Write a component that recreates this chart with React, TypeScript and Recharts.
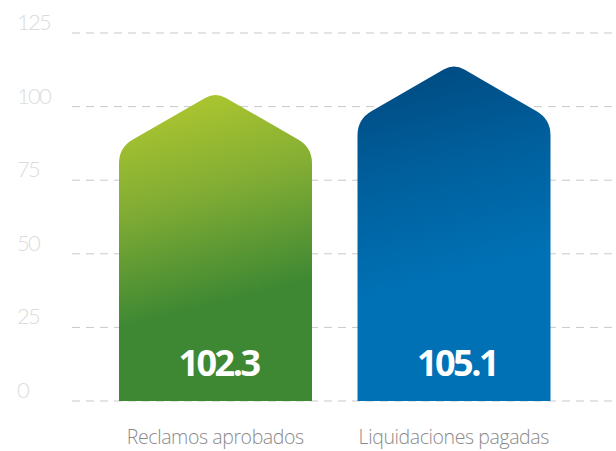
import { BarChart, Bar, XAxis, YAxis, CartesianGrid } from "recharts";

// categories and values
const CATEGORIES = ["Reclamos aprobados", "Liquidaciones pagadas"];
const BAR_HEIGHTS = [105.0, 114.6]; // apex height as drawn against the axis
const VALUE_LABELS = ["102.3", "105.1"];
const Y_TICKS = [0, 25, 50, 75, 100, 125];

const GRADIENTS = [
  ["#b4ca2e", "#82ad34", "#3e8833"],
  ["#00487e", "#005f9c", "#0071b5"],
];

const data = CATEGORIES.map((name, i) => ({
  name,
  height: BAR_HEIGHTS[i],
  label: VALUE_LABELS[i],
}));

const HouseBar = (props: any) => {
  const { x, y, width, height, index, payload } = props;
  const cx = x + width / 2;
  const bottom = y + height;
  const roof = (width / 2) * Math.tan(Math.PI / 6);
  const sy = y + roof;
  const rs = 16;
  const rp = 12;
  const c = Math.cos(Math.PI / 6);
  const s = Math.sin(Math.PI / 6);
  const d = [
    `M${x},${bottom}`,
    `L${x},${sy + rs}`,
    `Q${x},${sy} ${x + rs * c},${sy - rs * s}`,
    `L${cx - rp * c},${y + rp * s}`,
    `Q${cx},${y} ${cx + rp * c},${y + rp * s}`,
    `L${x + width - rs * c},${sy - rs * s}`,
    `Q${x + width},${sy} ${x + width},${sy + rs}`,
    `L${x + width},${bottom}`,
    "Z",
  ].join(" ");
  const g = GRADIENTS[index] ?? GRADIENTS[0];
  const id = `house-grad-${index}`;
  return (
    <g>
      <defs>
        <linearGradient
          id={id}
          gradientUnits="userSpaceOnUse"
          x1={x + width * 0.16}
          y1={y - 4}
          x2={x + width * 0.45}
          y2={y + 215}
        >
          <stop offset="0%" stopColor={g[0]} />
          <stop offset="50%" stopColor={g[1]} />
          <stop offset="100%" stopColor={g[2]} />
        </linearGradient>
      </defs>
      <path d={d} fill={`url(#${id})`} />
      <text
        x={cx + 3}
        y={bottom - 25}
        textAnchor="middle"
        fill="#ffffff"
        fontFamily="'Open Sans', sans-serif"
        fontWeight={700}
        fontSize={36}
        letterSpacing={-2.5}
      >
        {payload.label}
      </text>
    </g>
  );
};

const YTick = (props: any) => {
  const { y, payload } = props;
  return (
    <text
      x={17}
      y={y - 3}
      textAnchor="start"
      fill="#dcdcdc"
      fontFamily="Lato, sans-serif"
      fontWeight={300}
      fontSize={22}
      letterSpacing={-1.8}
    >
      {payload.value}
    </text>
  );
};

const XTick = (props: any) => {
  const { x, y, payload } = props;
  return (
    <text
      x={x}
      y={y + 35}
      textAnchor="middle"
      fill="#8a8a8a"
      fontFamily="'Open Sans', sans-serif"
      fontWeight={300}
      fontSize={19.5}
      letterSpacing={-0.4}
    >
      {payload.value}
    </text>
  );
};

export default function App() {
  return (
    <div style={{ position: "absolute", left: 0, top: 0, width: 616, height: 451, background: "#fff" }}>
      <BarChart
        width={616}
        height={451}
        data={data}
        margin={{ top: 33, right: 0, bottom: 0, left: 0 }}
        barSize={193}
      >
        <CartesianGrid vertical={false} stroke="#c9c9c9" strokeDasharray="8 6" />
        <XAxis
          dataKey="name"
          axisLine={false}
          tickLine={false}
          height={50}
          padding={{ left: 24, right: 43 }}
          tick={<XTick />}
        />
        <YAxis
          domain={[0, 125]}
          ticks={Y_TICKS}
          width={72}
          axisLine={false}
          tickLine={false}
          tick={<YTick />}
        />
        <Bar dataKey="height" shape={<HouseBar />} isAnimationActive={false} />
      </BarChart>
    </div>
  );
}
